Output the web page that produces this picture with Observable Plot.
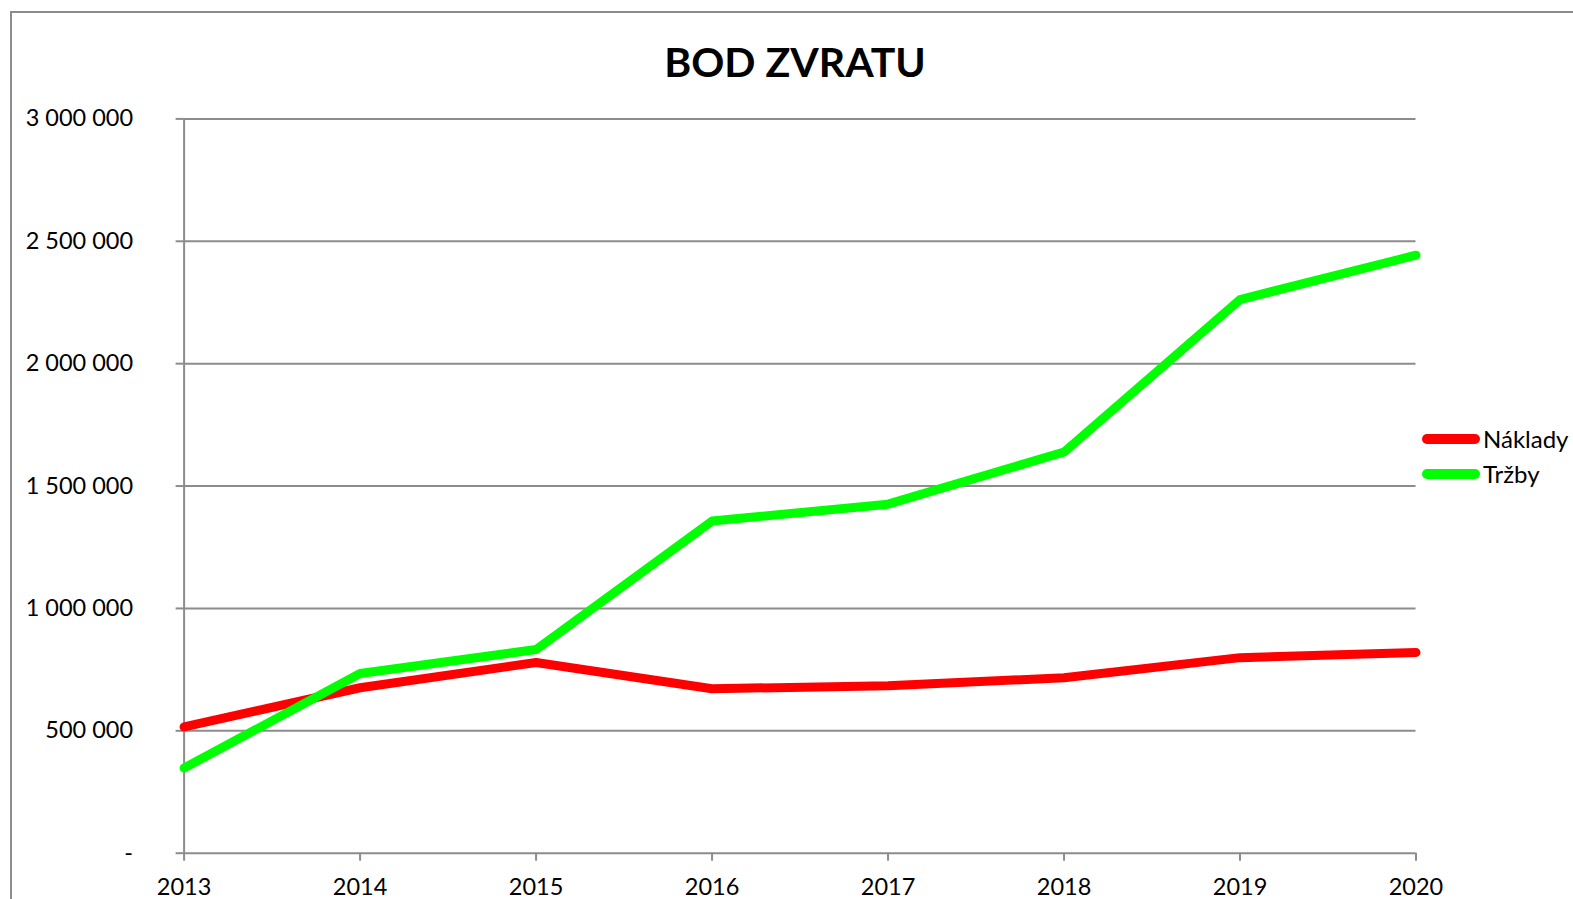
<!DOCTYPE html>
<html>
<head>
<meta charset="utf-8">
<script src="https://cdn.jsdelivr.net/npm/d3@7"></script>
<script src="https://cdn.jsdelivr.net/npm/@observablehq/plot@0.6"></script>
<style>
  html, body { margin: 0; padding: 0; background: #fff; }
  #wrap { position: relative; width: 1573px; height: 899px; overflow: hidden; font-family: Lato, "Open Sans", sans-serif; }
  #frame { position: absolute; left: 10px; top: 11px; width: 3000px; height: 3000px; border: 2px solid #8c8c8c; box-sizing: border-box; }
  #title { position: absolute; left: 0; width: 1590px; top: 37px; text-align: center; font-weight: 700; font-size: 41px; line-height: 50px; color: #000; }
  #chart { position: absolute; left: 0; top: 0; }
  #legend { position: absolute; left: 1422px; top: 421px; font-size: 24px; color: #000; }
  .li { display: flex; align-items: center; height: 35px; }
  .sw { width: 58px; height: 10px; border-radius: 5px; margin-right: 3px; }
</style>
</head>
<body>
<div id="wrap">
  <div id="frame"></div>
  <div id="title">BOD ZVRATU</div>
  <div id="chart"></div>
  <div id="legend"></div>
</div>
<script>
const years = [2013, 2014, 2015, 2016, 2017, 2018, 2019, 2020];
const naklady = [516000, 676000, 779000, 672000, 684000, 717000, 799000, 820000];
const trzby = [348000, 734000, 832000, 1357000, 1426000, 1639000, 2262000, 2443000];
const seriesNames = ["Náklady", "Tržby"];
const seriesColors = ["#ff0000", "#00ff00"];
const yTicks = [0, 500000, 1000000, 1500000, 2000000, 2500000, 3000000];

const rows = [];
years.forEach((y, i) => rows.push({year: y, value: naklady[i], series: seriesNames[0]}));
years.forEach((y, i) => rows.push({year: y, value: trzby[i], series: seriesNames[1]}));

const fmt = v => v === 0 ? "-" : d3.format(",")(v).replace(/,/g, " ");
const grid = "#8c8c8c";

const chart = Plot.plot({
  width: 1573,
  height: 899,
  marginLeft: 183.6,
  marginRight: 157.5,
  marginTop: 118.4,
  marginBottom: 46.3,
  style: { fontFamily: "Lato, 'Open Sans', sans-serif", fontSize: "23.5px", color: "#000", background: "transparent", overflow: "visible" },
  x: { type: "linear", domain: [2013, 2020] },
  y: { type: "linear", domain: [0, 3000000] },
  color: { domain: seriesNames, range: seriesColors },
  marks: [
    Plot.ruleY(yTicks.filter(v => v > 0), { stroke: grid, strokeWidth: 2, strokeOpacity: 1 }),
    Plot.axisY({ ticks: yTicks, tickFormat: fmt, tickSize: 8, tickPadding: 43, stroke: grid, strokeWidth: 2, strokeOpacity: 1, fill: "#000", label: null, fontSize: 23.5 }),
    Plot.axisX({ ticks: years, tickFormat: d => String(d), tickSize: 8, tickPadding: 17, stroke: grid, strokeWidth: 2, strokeOpacity: 1, fill: "#000", label: null, fontSize: 23.5 }),
    Plot.ruleX([2013], { stroke: grid, strokeWidth: 2 }),
    Plot.ruleY([0], { stroke: grid, strokeWidth: 2 }),
    Plot.line(rows, { x: "year", y: "value", stroke: "series", strokeWidth: 9, strokeLinejoin: "round", strokeLinecap: "round" })
  ]
});
document.getElementById("chart").appendChild(chart);

const legend = document.getElementById("legend");
seriesNames.forEach((name, i) => {
  const li = document.createElement("div");
  li.className = "li";
  const sw = document.createElement("div");
  sw.className = "sw";
  sw.style.background = seriesColors[i];
  const t = document.createElement("span");
  t.textContent = name;
  li.appendChild(sw);
  li.appendChild(t);
  legend.appendChild(li);
});
</script>
</body>
</html>
